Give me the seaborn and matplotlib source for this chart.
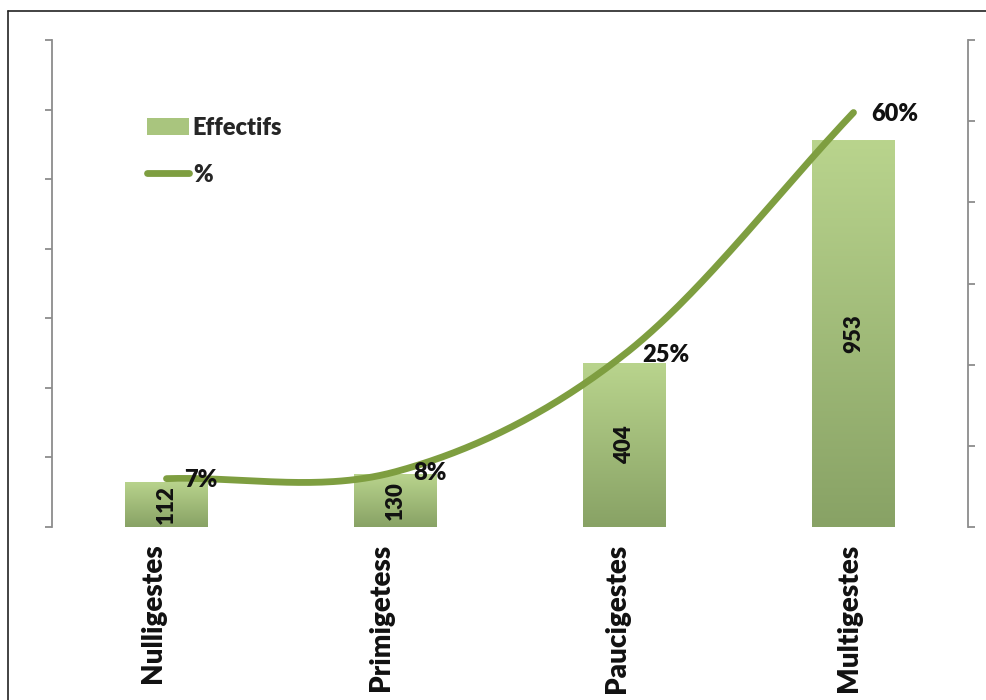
import numpy as np
import pandas as pd
import matplotlib
matplotlib.use("Agg")
import matplotlib.pyplot as plt
import matplotlib.transforms as mtrans
from matplotlib.lines import Line2D
from matplotlib.patches import Patch
from matplotlib.colors import LinearSegmentedColormap
import seaborn as sns

# ---- data ----
categories = ["Nulligestes", "Primigetess", "Paucigestes", "Multigestes"]
effectifs = [112, 130, 404, 953]
percents = [7, 8, 25, 60]
pct_labels = ["7%", "8%", "25%", "60%"]

sns.set_theme(style="white")
plt.rcParams["font.family"] = ["Lato", "DejaVu Sans"]

W, H = 986, 700
fig = plt.figure(figsize=(W / 100, H / 100), dpi=100)
fig.patch.set_facecolor("white")

left, right, top, bottom = 52, 968, 40, 527
ax = fig.add_axes([left / W, 1 - bottom / H, (right - left) / W, (bottom - top) / H])
ax2 = ax.twinx()

df = pd.DataFrame({"cat": categories, "n": effectifs})
sns.barplot(data=df, x="cat", y="n", order=categories, color="#A6C27A",
            width=0.36, ax=ax, saturation=1)

ax.set_xlim(-0.5, 3.5)
ax.set_ylim(0, 1200)
ax2.set_ylim(0, 70.5)

# gradient fill on bars
cmap = LinearSegmentedColormap.from_list("g", ["#88A265", "#B9D48D"])
grad = np.linspace(0, 1, 256).reshape(-1, 1)
for p in ax.patches:
    x0, y0 = p.get_x(), p.get_y()
    w, h = p.get_width(), p.get_height()
    p.set_facecolor("none")
    p.set_edgecolor("none")
    im = ax.imshow(grad, cmap=cmap, origin="lower", aspect="auto",
                   extent=[x0, x0 + w, y0, y0 + h], zorder=2)
    im.set_clip_path(p)
ax.set_xlim(-0.5, 3.5)
ax.set_ylim(0, 1200)

WEIGHT = "heavy"

# value labels inside bars
for i, v in enumerate(effectifs):
    ax.text(i, v / 2, str(v), rotation=90, ha="center", va="center",
            fontsize=16, fontweight=WEIGHT, color="#111111", zorder=5)

# smooth line (Catmull-Rom through the data points, chord tangents at the ends)
xp = np.arange(len(percents), dtype=float)
yp = np.array(percents, dtype=float)
ext = np.concatenate([[2 * yp[0] - yp[1]], yp, [2 * yp[-1] - yp[-2]]])
pts_x, pts_y = [], []
for i in range(len(yp) - 1):
    p0, p1, p2, p3 = ext[i], ext[i + 1], ext[i + 2], ext[i + 3]
    m1 = (p2 - p0) / 2
    m2 = (p3 - p1) / 2
    t = np.linspace(0, 1, 60)
    h00 = 2 * t**3 - 3 * t**2 + 1
    h10 = t**3 - 2 * t**2 + t
    h01 = -2 * t**3 + 3 * t**2
    h11 = t**3 - t**2
    pts_y.extend(h00 * p1 + h10 * m1 + h01 * p2 + h11 * m2)
    pts_x.extend(xp[i] + t)
line_color = "#7E9E40"
ax2.plot(pts_x, pts_y, color=line_color, lw=4.9, solid_capstyle="round", zorder=4)

for i, (v, lab) in enumerate(zip(percents, pct_labels)):
    ax2.annotate(lab, (i, v), xytext=(18, -1), textcoords="offset pixels",
                 ha="left", va="center", fontsize=17, fontweight=WEIGHT,
                 color="#111111", zorder=6)

# axes styling
axis_gray = "#8C8C8C"
for a in (ax, ax2):
    for s in ("top", "bottom"):
        a.spines[s].set_visible(False)
ax.spines["right"].set_visible(False)
ax2.spines["left"].set_visible(False)
ax.spines["left"].set_color(axis_gray)
ax.spines["left"].set_linewidth(1.3)
ax2.spines["right"].set_color(axis_gray)
ax2.spines["right"].set_linewidth(1.3)

ax.set_yticks(np.linspace(0, 1200, 8))
ax2.set_yticks(np.linspace(0, 70.5, 7))
ax.tick_params(axis="y", which="both", left=True, length=5, width=1.3,
               color=axis_gray, labelleft=False, direction="out")
ax2.tick_params(axis="y", which="both", right=True, length=5, width=1.3,
                color=axis_gray, labelright=False, direction="out")
ax.tick_params(axis="x", bottom=False, pad=6)
ax.set_xticks(range(len(categories)))
ax.set_xticklabels(categories, rotation=90, fontsize=20, fontweight=WEIGHT,
                   color="#111111", va="top", ha="center")
label_shift_px = [-13, -14, -7, -4]
for lab, dx in zip(ax.get_xticklabels(), label_shift_px):
    lab.set_transform(lab.get_transform() +
                      mtrans.ScaledTranslation(dx / 100, 0, fig.dpi_scale_trans))
ax.set_xlabel("")
ax.set_ylabel("")
ax2.set_ylabel("")
ax.grid(False)
ax2.grid(False)

# legend
handles = [Patch(facecolor="#A9C57E", edgecolor="none"),
           Line2D([0], [0], color=line_color, lw=4.9, solid_capstyle="round")]
leg = fig.legend(handles, ["Effectifs", "%"], loc="upper left",
                 bbox_to_anchor=(135 / W, 1 - 105 / H), frameon=False,
                 prop={"size": 17, "weight": WEIGHT}, handlelength=1.8,
                 handletextpad=0.15, labelspacing=1.05, borderpad=0)

# outer frame
fig.add_artist(Line2D([8 / W, 1], [1 - 11 / H, 1 - 11 / H], color="#222222", lw=1.2,
                      transform=fig.transFigure))
fig.add_artist(Line2D([8 / W, 8 / W], [0, 1 - 11 / H], color="#222222", lw=1.2,
                      transform=fig.transFigure))

fig.savefig("out.png", dpi=100)
